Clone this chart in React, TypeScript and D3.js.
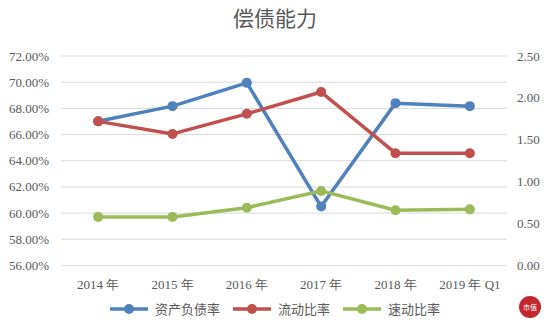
import React from "react";
import * as d3 from "d3";

const categories = ["2014 年", "2015 年", "2016 年", "2017 年", "2018 年", "2019 年 Q1"];
const debtRatio = [67.02, 68.17, 69.95, 60.5, 68.4, 68.17];
const currentRatio = [1.72, 1.57, 1.81, 2.07, 1.34, 1.34];
const quickRatio = [0.58, 0.58, 0.69, 0.89, 0.66, 0.67];
const leftTicks = [56, 58, 60, 62, 64, 66, 68, 70, 72];
const rightTicks = [0, 0.5, 1, 1.5, 2, 2.5];
const seriesNames = ["资产负债率", "流动比率", "速动比率"];
const colors = ["#4F81BD", "#C0504D", "#9BBB59"];

export default function App() {
  const W = 550, H = 329;
  const x0 = 61, x1 = 507, yTop = 56, yBot = 265.5;
  const x = d3.scaleBand<string>().domain(categories).range([x0, x1]);
  const cx = (c: string) => (x(c) as number) + x.bandwidth() / 2;
  const yL = d3.scaleLinear().domain([56, 72]).range([yBot, yTop]);
  const yR = d3.scaleLinear().domain([0, 2.5]).range([yBot, yTop]);
  const series = [
    { vals: debtRatio, y: yL },
    { vals: currentRatio, y: yR },
    { vals: quickRatio, y: yR },
  ];
  const font = "'Liberation Serif', 'Times New Roman', serif";
  const legendX = [110, 233, 343];
  return (
    <svg width={W} height={H} style={{ position: "absolute", left: 0, top: 0, background: "#fff" }}>
      <rect width={W} height={H} fill="#fff" />
      <text x={275} y={26} textAnchor="middle" fontSize={21} fill="#595959"
        fontFamily="'Noto Sans CJK SC', sans-serif">偿债能力</text>
      {leftTicks.map((t) => (
        <g key={t}>
          <line x1={x0} x2={x1} y1={yL(t)} y2={yL(t)} stroke="#D9D9D9" strokeWidth={1} />
          <text x={49} y={yL(t) + 4.5} textAnchor="end" fontSize={13} fill="#595959" fontFamily={font}>
            {t.toFixed(2)}%
          </text>
        </g>
      ))}
      {rightTicks.map((t) => (
        <text key={t} x={517} y={yR(t) + 4.5} textAnchor="start" fontSize={13} fill="#595959" fontFamily={font}>
          {t.toFixed(2)}
        </text>
      ))}
      {categories.map((c) => (
        <text key={c} x={cx(c)} y={289} textAnchor="middle" fontSize={13} fill="#595959" fontFamily={font}>
          {c}
        </text>
      ))}
      {series.map((s, i) => {
        const line = d3.line<number>().x((_, j) => cx(categories[j])).y((v) => s.y(v));
        return (
          <g key={i}>
            <path d={line(s.vals) || ""} fill="none" stroke={colors[i]} strokeWidth={3.5} strokeLinejoin="round" />
            {s.vals.map((v, j) => (
              <circle key={j} cx={cx(categories[j])} cy={s.y(v)} r={5} fill={colors[i]} />
            ))}
          </g>
        );
      })}
      {seriesNames.map((n, i) => (
        <g key={n}>
          <line x1={legendX[i]} x2={legendX[i] + 38} y1={309} y2={309} stroke={colors[i]} strokeWidth={3.5} />
          <circle cx={legendX[i] + 19} cy={309} r={5} fill={colors[i]} />
          <text x={legendX[i] + 45} y={314} fontSize={13} fill="#595959" fontFamily="'Noto Sans CJK SC', sans-serif">
            {n}
          </text>
        </g>
      ))}
      <circle cx={530} cy={307} r={11} fill="#C0282D" />
      <text x={530} y={310} fontSize={7} fill="#fff" textAnchor="middle" fontFamily="'Noto Sans CJK SC', sans-serif">市值</text>
    </svg>
  );
}
